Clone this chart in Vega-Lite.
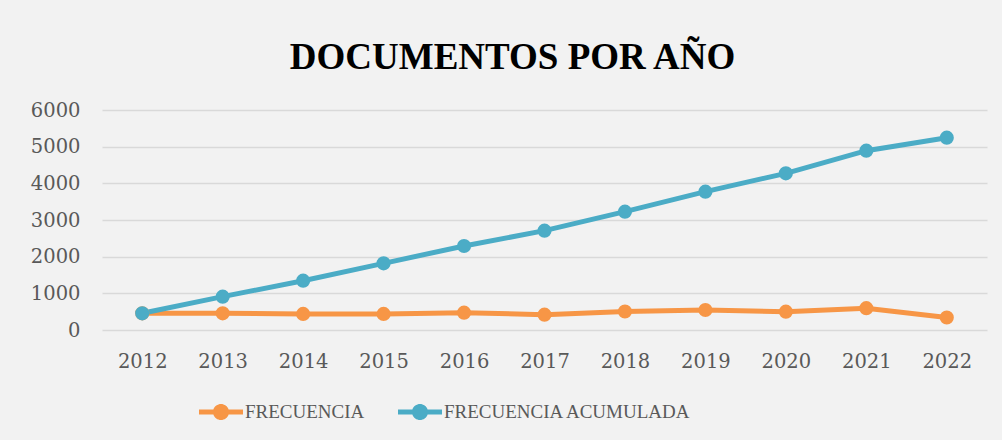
{
  "$schema": "https://vega.github.io/schema/vega-lite/v6.json",
  "width": 885,
  "height": 220,
  "autosize": {"type": "none"},
  "padding": {"left": 102, "top": 110, "right": 15, "bottom": 110},
  "background": "#f2f2f2",
  "title": {
    "text": "DOCUMENTOS POR AÑO",
    "font": "Liberation Serif",
    "fontSize": 37,
    "fontWeight": "bold",
    "color": "#000000",
    "anchor": "middle",
    "frame": "group",
    "dx": -32,
    "dy": 48,
    "offset": 42,
    "baseline": "alphabetic"
  },
  "data": {
    "values": [
      {"year": "2012", "serie": "FRECUENCIA", "value": 455},
      {"year": "2013", "serie": "FRECUENCIA", "value": 455},
      {"year": "2014", "serie": "FRECUENCIA", "value": 439},
      {"year": "2015", "serie": "FRECUENCIA", "value": 439},
      {"year": "2016", "serie": "FRECUENCIA", "value": 473},
      {"year": "2017", "serie": "FRECUENCIA", "value": 418},
      {"year": "2018", "serie": "FRECUENCIA", "value": 505},
      {"year": "2019", "serie": "FRECUENCIA", "value": 545},
      {"year": "2020", "serie": "FRECUENCIA", "value": 500},
      {"year": "2021", "serie": "FRECUENCIA", "value": 595},
      {"year": "2022", "serie": "FRECUENCIA", "value": 340},
      {"year": "2012", "serie": "FRECUENCIA ACUMULADA", "value": 455},
      {"year": "2013", "serie": "FRECUENCIA ACUMULADA", "value": 909},
      {"year": "2014", "serie": "FRECUENCIA ACUMULADA", "value": 1345},
      {"year": "2015", "serie": "FRECUENCIA ACUMULADA", "value": 1818},
      {"year": "2016", "serie": "FRECUENCIA ACUMULADA", "value": 2291},
      {"year": "2017", "serie": "FRECUENCIA ACUMULADA", "value": 2709},
      {"year": "2018", "serie": "FRECUENCIA ACUMULADA", "value": 3227},
      {"year": "2019", "serie": "FRECUENCIA ACUMULADA", "value": 3773},
      {"year": "2020", "serie": "FRECUENCIA ACUMULADA", "value": 4273},
      {"year": "2021", "serie": "FRECUENCIA ACUMULADA", "value": 4891},
      {"year": "2022", "serie": "FRECUENCIA ACUMULADA", "value": 5245}
    ]
  },
  "encoding": {
    "x": {
      "field": "year",
      "type": "ordinal",
      "scale": {"type": "point", "padding": 0.5},
      "axis": {
        "title": null,
        "labelAngle": 0,
        "labelFont": "DejaVu Serif",
        "labelFontSize": 19.5,
        "labelColor": "#595959",
        "labelPadding": 22,
        "ticks": false,
        "domain": false,
        "grid": false
      }
    },
    "y": {
      "field": "value",
      "type": "quantitative",
      "scale": {"domain": [0, 6000], "nice": false},
      "axis": {
        "title": null,
        "values": [0, 1000, 2000, 3000, 4000, 5000, 6000],
        "labelFont": "DejaVu Serif",
        "labelFontSize": 19.5,
        "labelColor": "#595959",
        "labelPadding": 22,
        "ticks": false,
        "domain": false,
        "grid": true,
        "gridColor": "#d9d9d9",
        "gridWidth": 1.5,
        "format": "d"
      }
    },
    "color": {
      "field": "serie",
      "type": "nominal",
      "scale": {
        "domain": ["FRECUENCIA", "FRECUENCIA ACUMULADA"],
        "range": ["#f79646", "#4bacc6"]
      },
      "legend": {
        "title": null,
        "orient": "none",
        "direction": "horizontal",
        "legendX": 97,
        "legendY": 280,
        "labelFont": "Liberation Serif",
        "labelFontSize": 19,
        "labelColor": "#595959",
        "labelOffset": 2,
        "labelLimit": 500,
        "columnPadding": 33,
        "symbolSize": 1936,
        "symbolType": "M-1,-0.114L-0.346,-0.114A0.364,0.364 0 0 1 0.346,-0.114L1,-0.114L1,0.114L0.346,0.114A0.364,0.364 0 0 1 -0.346,0.114L-1,0.114Z",
        "symbolStrokeWidth": 0,
        "encode": {
          "symbols": {
            "update": {
              "fill": {"scale": "color", "field": "value"},
              "fillOpacity": {"value": 1},
              "strokeWidth": {"value": 0}
            }
          }
        }
      }
    }
  },
  "layer": [
    {"mark": {"type": "line", "strokeWidth": 5}},
    {"mark": {"type": "point", "filled": true, "size": 200, "opacity": 1}}
  ],
  "config": {"view": {"stroke": null}}
}
